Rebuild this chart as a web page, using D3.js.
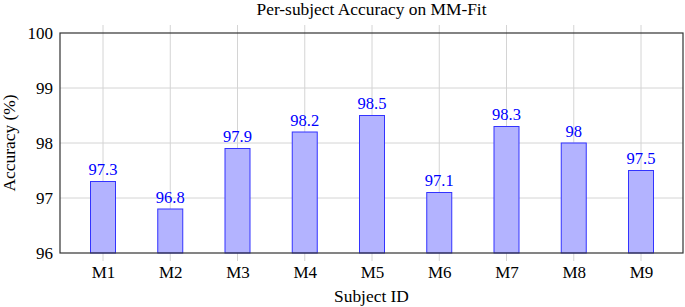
<!DOCTYPE html>
<html>
<head>
<meta charset="utf-8">
<script src="https://cdn.jsdelivr.net/npm/d3@7"></script>
<style>
  body { margin: 0; background: #fff; }
  svg { display: block; font-family: 'Liberation Serif', 'Times New Roman', serif; }
</style>
</head>
<body>
<div id="chart"></div>
<script>
const subjects = ['M1', 'M2', 'M3', 'M4', 'M5', 'M6', 'M7', 'M8', 'M9'];
const accuracy = [97.3, 96.8, 97.9, 98.2, 98.5, 97.1, 98.3, 98, 97.5];
const yTicks = [96, 97, 98, 99, 100];

const width = 685;
const height = 307;
const margin = { top: 33, right: 2, bottom: 54, left: 60 };
const innerW = width - margin.left - margin.right;
const innerH = height - margin.top - margin.bottom;

const svg = d3.select('#chart').append('svg').attr('width', width).attr('height', height);
const g = svg.append('g').attr('transform', `translate(${margin.left},${margin.top})`);

const x = d3.scalePoint().domain(subjects).range([43, innerW - 42]);
const y = d3.scaleLinear().domain([96, 100]).range([innerH, 0]);
const barW = 25;

// grid
g.selectAll('line.hgrid')
  .data(yTicks.slice(1, -1))
  .join('line')
  .attr('x1', 0).attr('x2', innerW)
  .attr('y1', (d) => y(d)).attr('y2', (d) => y(d))
  .attr('stroke', '#d4d4d4').attr('stroke-width', 1);

g.selectAll('line.vgrid')
  .data(subjects)
  .join('line')
  .attr('x1', (d) => x(d)).attr('x2', (d) => x(d))
  .attr('y1', -8).attr('y2', innerH + 8)
  .attr('stroke', '#d4d4d4').attr('stroke-width', 1);

// bars
g.selectAll('rect.bar')
  .data(accuracy)
  .join('rect')
  .attr('x', (d, i) => x(subjects[i]) - barW / 2)
  .attr('y', (d) => y(d))
  .attr('width', barW)
  .attr('height', (d) => innerH - y(d))
  .attr('fill', '#b3b3ff')
  .attr('stroke', '#3333ff')
  .attr('stroke-width', 1);

g.selectAll('text.val')
  .data(accuracy)
  .join('text')
  .attr('x', (d, i) => x(subjects[i]))
  .attr('y', (d) => y(d) - 6.5)
  .attr('text-anchor', 'middle')
  .attr('font-size', 16.5)
  .attr('fill', '#0000ff')
  .text((d) => d);

// frame
g.append('rect')
  .attr('width', innerW).attr('height', innerH)
  .attr('fill', 'none').attr('stroke', '#333').attr('stroke-width', 1.2);

// axes (labels only, frame drawn above)
const yAxis = g.append('g').call(d3.axisLeft(y).tickValues(yTicks).tickSize(0).tickPadding(7).tickFormat(d3.format('d')));
yAxis.select('.domain').remove();
yAxis.selectAll('text').attr('font-size', 17).attr('font-family', 'Liberation Serif').attr('fill', '#000');

const xAxis = g.append('g').attr('transform', `translate(0,${innerH})`).call(d3.axisBottom(x).tickSize(0).tickPadding(13));
xAxis.select('.domain').remove();
xAxis.selectAll('text').attr('font-size', 17).attr('font-family', 'Liberation Serif').attr('fill', '#000');

svg.append('text')
  .attr('x', margin.left + innerW / 2).attr('y', 15)
  .attr('text-anchor', 'middle').attr('font-size', 17.4)
  .text('Per-subject Accuracy on MM-Fit');

svg.append('text')
  .attr('x', margin.left + innerW / 2).attr('y', 302)
  .attr('text-anchor', 'middle').attr('font-size', 17.4)
  .text('Subject ID');

svg.append('text')
  .attr('transform', `translate(15,${margin.top + innerH / 2}) rotate(-90)`)
  .attr('text-anchor', 'middle').attr('font-size', 17.4)
  .text('Accuracy (%)');
</script>
</body>
</html>
